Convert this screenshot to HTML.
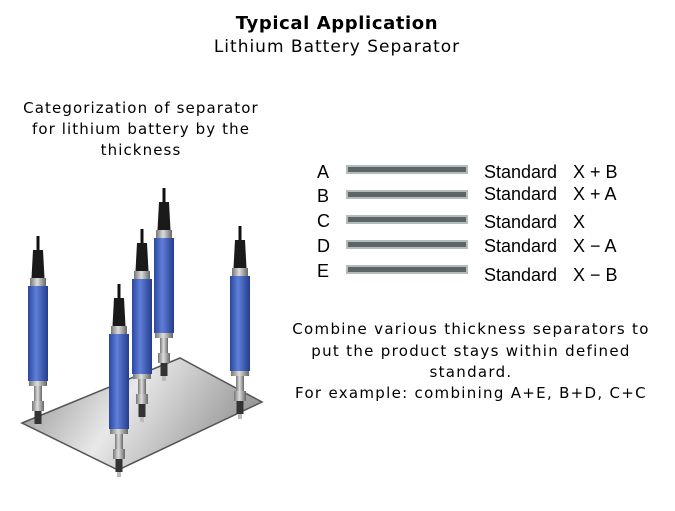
<!DOCTYPE html>
<html><head><meta charset="utf-8"><style>
body{margin:0;background:#fff}
svg text{font-family:"DejaVu Sans","Liberation Sans",sans-serif;fill:#000}
svg .lib{font-family:"Liberation Sans",sans-serif}
</style></head><body>
<svg width="675" height="506" viewBox="0 0 675 506" xmlns="http://www.w3.org/2000/svg">
<defs>
<linearGradient id="pl" x1="0" y1="0" x2="1" y2="0.3">
<stop offset="0" stop-color="#8a8a8a"/><stop offset="0.5" stop-color="#e8e8e8"/><stop offset="1" stop-color="#9a9a9a"/></linearGradient>
<linearGradient id="bl" x1="0" y1="0" x2="1" y2="0">
<stop offset="0" stop-color="#2a46a0"/><stop offset="0.4" stop-color="#5f7fd8"/><stop offset="1" stop-color="#243d8c"/></linearGradient>
<linearGradient id="gr" x1="0" y1="0" x2="1" y2="0">
<stop offset="0" stop-color="#777"/><stop offset="0.45" stop-color="#ddd"/><stop offset="1" stop-color="#666"/></linearGradient>
<g id="s">
<rect x="8.5" y="0" width="3" height="14" fill="#111"/>
<path d="M5 14 H15 L16.5 42 H3.5 Z" fill="#1a1a1a"/>
<rect x="2" y="42" width="16" height="8" fill="url(#gr)"/>
<rect x="0" y="50" width="20" height="95" fill="url(#bl)"/>
<rect x="1" y="145" width="18" height="5" fill="url(#gr)"/>
<rect x="6" y="150" width="8" height="15" fill="url(#gr)"/>
<rect x="4" y="165" width="12" height="10" fill="url(#gr)"/>
<rect x="6.5" y="175" width="7" height="13" fill="#333"/>
<rect x="8" y="188" width="4" height="5" fill="#bbb"/>
</g>
</defs>
<text x="337" y="29" text-anchor="middle" font-size="18" font-weight="bold" letter-spacing="0.6">Typical Application</text>
<text x="337" y="52" text-anchor="middle" font-size="17" letter-spacing="1">Lithium Battery Separator</text>
<g font-size="15" text-anchor="middle" letter-spacing="1.1">
<text x="141" y="113">Categorization of separator</text>
<text x="141" y="134">for lithium battery by the</text>
<text x="141" y="155">thickness</text>
</g>
<g font-size="15" text-anchor="middle" letter-spacing="1.3">
<text x="471" y="334">Combine various thickness separators to</text>
<text x="471" y="356">put the product stays within defined</text>
<text x="471" y="377">standard.</text>
<text x="471" y="398">For example: combining A+E, B+D, C+C</text>
</g>
<polygon points="22,423 180,358 262,402 118,470" fill="url(#pl)" stroke="#555" stroke-width="1.5"/>
<use href="#s" x="28" y="236"/>
<use href="#s" x="230" y="226"/>
<use href="#s" x="154" y="188"/>
<use href="#s" x="132" y="229"/>
<use href="#s" x="109" y="284"/>
<g fill="#5d6566" stroke="#b3bdbc" stroke-width="2">
<rect x="347" y="166" width="120" height="7"/>
<rect x="347" y="191" width="120" height="7"/>
<rect x="347" y="216" width="120" height="7"/>
<rect x="347" y="241" width="120" height="7"/>
<rect x="347" y="266" width="120" height="7"/>
</g>
<g font-size="18" fill="#333">
<text class="lib" x="317" y="178" fill="#333">A</text><text class="lib" x="317" y="202" fill="#333">B</text><text class="lib" x="317" y="227" fill="#333">C</text><text class="lib" x="317" y="252" fill="#333">D</text><text class="lib" x="317" y="277" fill="#333">E</text>
<text class="lib" x="484" y="178">Standard</text><text class="lib" x="573" y="178">X + B</text>
<text class="lib" x="484" y="200">Standard</text><text class="lib" x="573" y="200">X + A</text>
<text class="lib" x="484" y="228">Standard</text><text class="lib" x="573" y="228">X</text>
<text class="lib" x="484" y="252">Standard</text><text class="lib" x="573" y="252">X − A</text>
<text class="lib" x="484" y="281">Standard</text><text class="lib" x="573" y="281">X − B</text>
</g>
</svg>
</body></html>
